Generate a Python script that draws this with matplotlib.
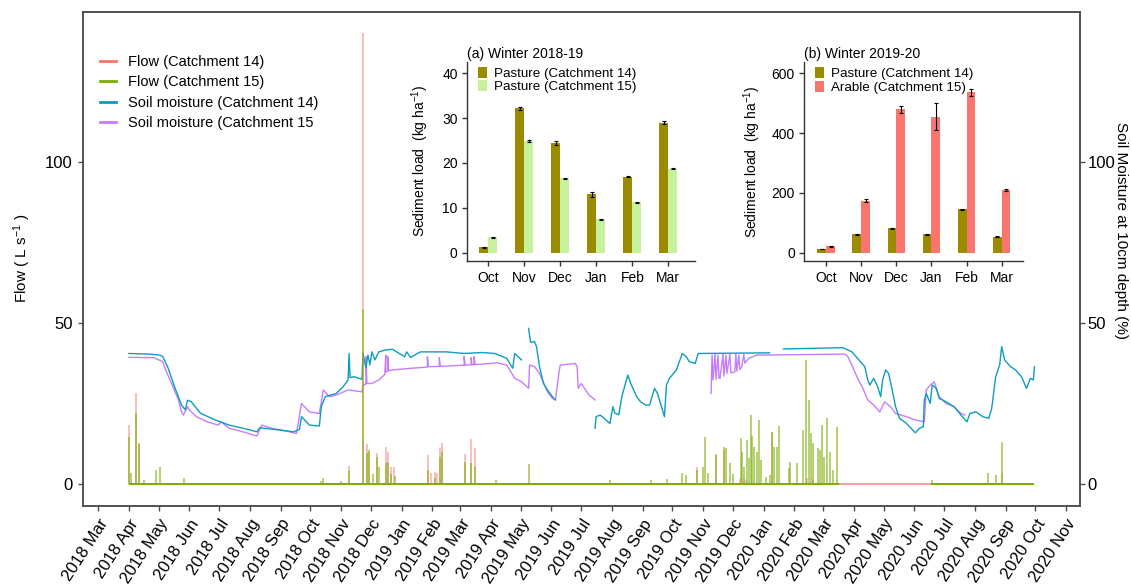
import matplotlib
matplotlib.use("Agg")
import matplotlib.pyplot as plt
import matplotlib.dates as mdates
from matplotlib.lines import Line2D
import numpy as np
import pandas as pd

plt.rcParams['font.family'] = ['Liberation Sans', 'DejaVu Sans']
plt.rcParams['mathtext.default'] = 'regular'

# ---------------- data ----------------
# Soil moisture at 10 cm depth (%), None marks logger gaps
soil14 = [
    ("2018-04-01", 40.5), ("2018-04-22", 40.3), ("2018-05-02", 40.0), ("2018-05-05", 39.6),
    ("2018-05-10", 36.4), ("2018-05-17", 30.2), ("2018-05-24", 24.5), ("2018-05-28", 23.0),
    ("2018-05-30", 26.0), ("2018-06-03", 25.5), ("2018-06-12", 22.0), ("2018-06-26", 20.0),
    ("2018-07-11", 18.3), ("2018-07-25", 17.3), ("2018-08-01", 16.8), ("2018-08-08", 16.2),
    ("2018-08-11", 17.5), ("2018-08-15", 17.3), ("2018-08-30", 16.8), ("2018-09-14", 16.2),
    ("2018-09-20", 17.0), ("2018-09-22", 20.9), ("2018-09-30", 18.3), ("2018-10-10", 18.0),
    ("2018-10-12", 24.0), ("2018-10-16", 27.1), ("2018-10-27", 28.1), ("2018-11-03", 30.2),
    ("2018-11-08", 32.3), ("2018-11-09", 40.5), ("2018-11-10", 33.0), ("2018-11-14", 33.3),
    ("2018-11-22", 32.5), ("2018-11-23", 40.5), ("2018-11-26", 36.0), ("2018-11-28", 40.0),
    ("2018-11-30", 37.0), ("2018-12-02", 41.0), ("2018-12-05", 38.5), ("2018-12-09", 41.0),
    ("2018-12-16", 41.6), ("2018-12-23", 41.8), ("2018-12-28", 40.8), ("2019-01-04", 39.5),
    ("2019-01-06", 41.0), ("2019-01-10", 39.3), ("2019-01-20", 41.0), ("2019-02-15", 41.0),
    ("2019-03-05", 40.5), ("2019-03-23", 40.8), ("2019-04-05", 40.5), ("2019-04-17", 39.0),
    ("2019-04-23", 35.9), ("2019-04-25", 40.5), ("2019-05-02", 38.5), ("2019-05-04", None),
    ("2019-05-09", 48.3), ("2019-05-11", 44.0), ("2019-05-15", 44.2), ("2019-05-17", 42.6),
    ("2019-05-20", 36.4), ("2019-05-24", 31.2), ("2019-05-28", 29.2), ("2019-06-02", 27.1),
    ("2019-06-05", 26.1), ("2019-06-07", None),
    ("2019-07-15", 17.3), ("2019-07-16", 20.9), ("2019-07-20", 21.4), ("2019-07-24", 20.5),
    ("2019-07-28", 19.3), ("2019-07-30", 18.8), ("2019-08-02", 24.0), ("2019-08-04", 22.0),
    ("2019-08-08", 21.5), ("2019-08-11", 27.1), ("2019-08-17", 33.8), ("2019-08-20", 31.2),
    ("2019-08-26", 27.1), ("2019-08-30", 25.5), ("2019-09-04", 24.5), ("2019-09-08", 24.5),
    ("2019-09-13", 29.7), ("2019-09-16", 28.1), ("2019-09-23", 20.9), ("2019-09-25", 30.7),
    ("2019-09-28", 32.8), ("2019-10-05", 35.4), ("2019-10-11", 40.5), ("2019-10-15", 39.5),
    ("2019-10-18", 38.0), ("2019-10-24", 37.4), ("2019-10-27", 40.5), ("2020-01-07", 40.7),
    ("2020-01-08", None),
    ("2020-01-21", 41.9), ("2020-03-21", 42.3), ("2020-03-30", 41.0), ("2020-04-06", 38.5),
    ("2020-04-12", 36.4), ("2020-04-15", 32.3), ("2020-04-17", 30.7), ("2020-04-21", 32.8),
    ("2020-04-25", 30.2), ("2020-04-28", 27.1), ("2020-04-30", 32.3), ("2020-05-03", 35.4),
    ("2020-05-06", 34.3), ("2020-05-09", 30.2), ("2020-05-13", 24.0), ("2020-05-17", 20.4),
    ("2020-05-24", 18.8), ("2020-06-02", 15.9), ("2020-06-06", 17.3), ("2020-06-10", 17.8),
    ("2020-06-11", 26.1), ("2020-06-13", 28.1), ("2020-06-17", 25.0), ("2020-06-19", 30.7),
    ("2020-06-23", 29.7), ("2020-06-26", 26.6), ("2020-07-03", 25.5), ("2020-07-11", 24.0),
    ("2020-07-18", 21.4), ("2020-07-24", 19.3), ("2020-07-27", 21.9), ("2020-08-02", 22.4),
    ("2020-08-09", 20.9), ("2020-08-15", 20.4), ("2020-08-18", 23.5), ("2020-08-22", 33.3),
    ("2020-08-26", 36.9), ("2020-08-28", 42.6), ("2020-08-31", 38.5), ("2020-09-06", 36.4),
    ("2020-09-11", 35.4), ("2020-09-17", 33.3), ("2020-09-22", 29.7), ("2020-09-26", 32.8),
    ("2020-09-29", 32.3), ("2020-09-30", 36.4),
]

soil15 = [
    ("2018-04-01", 39.3), ("2018-04-26", 39.2), ("2018-05-05", 38.0), ("2018-05-08", 35.4),
    ("2018-05-14", 31.2), ("2018-05-21", 26.1), ("2018-05-24", 22.4), ("2018-05-26", 21.4),
    ("2018-05-30", 24.0), ("2018-06-01", 23.0), ("2018-06-08", 20.9), ("2018-06-19", 19.3),
    ("2018-06-30", 18.3), ("2018-07-03", 19.3), ("2018-07-11", 17.3), ("2018-07-25", 16.2),
    ("2018-08-08", 14.9), ("2018-08-13", 18.3), ("2018-08-23", 17.3), ("2018-09-06", 16.5),
    ("2018-09-17", 15.7), ("2018-09-22", 25.0), ("2018-09-30", 22.4), ("2018-10-10", 21.9),
    ("2018-10-14", 29.2), ("2018-10-20", 27.1), ("2018-10-27", 27.6), ("2018-11-08", 29.2),
    ("2018-11-22", 28.6), ("2018-11-23", 30.7), ("2018-11-26", 31.0), ("2018-11-26", 39.5),
    ("2018-11-27", 31.2), ("2018-12-02", 31.2), ("2018-12-09", 32.3), ("2018-12-15", 34.0),
    ("2018-12-16", 40.0), ("2018-12-16", 34.8), ("2018-12-18", 35.0), ("2018-12-18", 39.5),
    ("2018-12-19", 35.2), ("2018-12-23", 35.4), ("2019-01-10", 35.9), ("2019-01-27", 36.3),
    ("2019-01-27", 39.5), ("2019-01-28", 36.4), ("2019-02-08", 36.5), ("2019-02-08", 39.2),
    ("2019-02-09", 36.5), ("2019-02-15", 36.6), ("2019-03-05", 36.9), ("2019-03-05", 39.6),
    ("2019-03-06", 36.9), ("2019-03-12", 37.0), ("2019-03-12", 39.2), ("2019-03-13", 37.0),
    ("2019-03-15", 37.0), ("2019-03-15", 39.5), ("2019-03-16", 37.1), ("2019-03-23", 37.2),
    ("2019-04-07", 37.6), ("2019-04-17", 36.9), ("2019-04-25", 32.8), ("2019-05-02", 31.7),
    ("2019-05-09", 29.7), ("2019-05-10", 36.9), ("2019-05-15", 36.4), ("2019-05-20", 34.3),
    ("2019-05-28", 28.6), ("2019-06-02", 26.6), ("2019-06-05", 26.1), ("2019-06-09", 35.4),
    ("2019-06-10", 36.9), ("2019-06-25", 37.4), ("2019-06-27", 36.4), ("2019-06-28", 29.7),
    ("2019-07-01", 31.2), ("2019-07-09", 27.6), ("2019-07-15", 26.1), ("2019-07-17", None),
    ("2019-11-09", 28.1), ("2019-11-10", 40.0), ("2019-11-11", 32.3), ("2019-11-13", 40.3),
    ("2019-11-14", 32.5), ("2019-11-16", 40.0), ("2019-11-17", 32.8), ("2019-11-18", 32.8),
    ("2019-11-21", 40.3), ("2019-11-22", 33.5), ("2019-11-24", 40.0), ("2019-11-25", 34.3),
    ("2019-11-28", 40.2), ("2019-11-29", 34.5), ("2019-12-03", 34.8), ("2019-12-04", 40.3),
    ("2019-12-05", 35.0), ("2019-12-07", 40.0), ("2019-12-08", 35.5), ("2019-12-10", 36.4),
    ("2019-12-12", 40.3), ("2019-12-13", 37.5), ("2019-12-17", 39.0), ("2019-12-25", 40.0),
    ("2020-03-23", 40.3), ("2020-03-26", 39.5), ("2020-03-30", 36.9), ("2020-04-04", 33.3),
    ("2020-04-10", 29.7), ("2020-04-15", 26.1), ("2020-04-21", 24.5), ("2020-04-27", 22.4),
    ("2020-05-02", 25.5), ("2020-05-08", 24.0), ("2020-05-13", 21.9), ("2020-05-24", 20.9),
    ("2020-06-02", 19.9), ("2020-06-11", 19.3), ("2020-06-13", 29.2), ("2020-06-17", 30.7),
    ("2020-06-21", 31.7), ("2020-06-26", 27.1), ("2020-07-03", 25.0), ("2020-07-11", 24.0),
    ("2020-07-18", 21.9), ("2020-07-22", 21.4),
]

# Flow peaks (L/s) above the zero baseline
flow14_peaks = [
    ("2018-04-01", 18.3), ("2018-04-08", 28.3), ("2018-04-11", 12.6), ("2018-11-09", 5.7),
    ("2018-11-23", 140.0), ("2018-11-27", 12.4), ("2018-11-29", 10.0), ("2018-12-07", 9.5),
    ("2018-12-16", 11.4), ("2018-12-18", 10.0), ("2018-12-21", 5.4), ("2018-12-24", 5.4),
    ("2019-01-28", 9.0), ("2019-01-31", 3.3), ("2019-02-04", 3.8), ("2019-02-06", 3.5),
    ("2019-02-09", 11.1), ("2019-02-11", 12.6), ("2019-03-06", 9.2), ("2019-03-12", 13.9),
    ("2019-03-16", 11.1), ("2019-10-26", 5.4), ("2019-11-14", 9.2), ("2019-11-22", 10.5),
    ("2019-12-08", 1.5), ("2019-12-12", 1.8), ("2019-12-14", 1.3), ("2020-01-09", 16.0),
    ("2020-02-14", 2.0), ("2020-02-20", 1.5), ("2020-08-28", 3.3),
]
flow15_peaks = [
    ("2018-04-01", 14.7), ("2018-04-03", 3.3), ("2018-04-08", 21.9), ("2018-04-11", 12.4),
    ("2018-04-16", 1.4), ("2018-04-28", 4.5), ("2018-05-02", 5.2), ("2018-05-27", 2.0),
    ("2018-10-12", 0.8), ("2018-10-14", 1.8), ("2018-11-01", 0.8), ("2018-11-09", 4.1),
    ("2018-11-23", 54.2), ("2018-11-27", 9.5), ("2018-11-29", 10.5), ("2018-12-03", 3.0),
    ("2018-12-07", 8.5), ("2018-12-09", 5.4), ("2018-12-16", 6.4), ("2018-12-18", 7.0),
    ("2018-12-21", 3.0), ("2018-12-25", 2.5), ("2019-01-28", 4.3), ("2019-02-04", 2.0),
    ("2019-02-09", 8.3), ("2019-02-11", 10.0), ("2019-03-06", 6.9), ("2019-03-12", 6.4),
    ("2019-03-16", 5.4), ("2019-04-06", 1.2), ("2019-05-09", 6.2), ("2019-07-30", 1.2),
    ("2019-09-09", 1.2), ("2019-09-26", 1.5), ("2019-10-11", 3.3), ("2019-10-15", 2.8),
    ("2019-10-26", 4.3), ("2019-11-01", 5.4), ("2019-11-03", 14.7), ("2019-11-06", 3.3),
    ("2019-11-14", 9.0), ("2019-11-22", 11.6), ("2019-11-24", 11.1), ("2019-11-28", 6.4),
    ("2019-12-01", 3.0), ("2019-12-09", 14.2), ("2019-12-10", 10.0), ("2019-12-12", 5.4),
    ("2019-12-15", 13.7), ("2019-12-17", 8.0), ("2019-12-19", 21.4), ("2019-12-20", 14.9),
    ("2019-12-22", 11.6), ("2019-12-25", 10.0), ("2019-12-27", 19.9), ("2019-12-29", 7.5),
    ("2020-01-03", 2.3), ("2020-01-07", 2.8), ("2020-01-09", 16.2), ("2020-01-11", 11.6),
    ("2020-01-14", 11.6), ("2020-01-16", 18.0), ("2020-01-27", 4.9), ("2020-01-28", 6.9),
    ("2020-02-04", 6.6), ("2020-02-10", 16.8), ("2020-02-13", 38.5), ("2020-02-16", 26.1),
    ("2020-02-18", 15.7), ("2020-02-20", 12.6), ("2020-02-25", 11.1), ("2020-02-27", 10.5),
    ("2020-02-29", 18.3), ("2020-03-02", 8.5), ("2020-03-05", 20.4), ("2020-03-08", 10.0),
    ("2020-03-11", 4.3), ("2020-03-15", 17.8), ("2020-06-19", 1.2), ("2020-08-14", 3.3),
    ("2020-08-22", 2.8), ("2020-08-28", 13.1),
]
# periods with a flow record (baseline drawn at zero)
flow14_record = [("2018-04-01", "2020-09-30")]
flow15_record = [("2018-04-01", "2020-03-17"), ("2020-06-18", "2020-09-30")]

# Monthly sediment loads (kg/ha) with standard errors
months = ["Oct", "Nov", "Dec", "Jan", "Feb", "Mar"]
w1819_c14 = [1.2, 32.2, 24.5, 13.0, 16.9, 29.0]
w1819_c14_se = [0.1, 0.4, 0.4, 0.5, 0.1, 0.3]
w1819_c15 = [3.4, 24.9, 16.6, 7.4, 11.2, 18.7]
w1819_c15_se = [0.1, 0.15, 0.1, 0.1, 0.1, 0.1]
w1920_c14 = [12, 62, 81, 61, 145, 53]
w1920_c14_se = [1, 2, 1.5, 2, 2, 2]
w1920_c15 = [21, 174, 480, 455, 537, 210]
w1920_c15_se = [2, 5, 12, 45, 12, 4]

# ---------------- colours ----------------
C_FLOW14 = "#F8766D"
C_FLOW15 = "#7CAE00"
C_SOIL14 = "#0E9CC0"
C_SOIL15 = "#C77CFF"
C_PAST = "#9B8B00"
C_PAST15 = "#C6F29E"
C_ARAB = "#F8766D"
SPINE = "#4d4d4d"


def to_series(pairs):
    d = pd.to_datetime([p[0] for p in pairs])
    v = np.array([np.nan if p[1] is None else p[1] for p in pairs], dtype=float)
    return d, v


W, H = 1131, 585
fig = plt.figure(figsize=(W / 100, H / 100), dpi=100)
ax = fig.add_axes([83.3 / W, 79 / H, 996.7 / W, 494.3 / H])

# soil moisture
for pairs, col in ((soil15, C_SOIL15), (soil14, C_SOIL14)):
    d, v = to_series(pairs)
    ax.plot(d, v, color=col, lw=1.0, zorder=2)

# flow: baselines and peaks
for peaks, record, col, a, ba in ((flow14_peaks, flow14_record, C_FLOW14, 0.5, 0.7),
                                  (flow15_peaks, flow15_record, C_FLOW15, 0.6, 1.0)):
    for s, e in record:
        ax.hlines(0, pd.Timestamp(s), pd.Timestamp(e), color=col, lw=1.4, alpha=ba, zorder=3)
    d, v = to_series(peaks)
    ax.vlines(d, 0, v, color=col, lw=1.3, alpha=a, zorder=3)

ax.set_xlim(pd.Timestamp("2018-02-14"), pd.Timestamp("2020-11-15"))
ax.set_ylim(-6.8, 146.5)
ax.set_yticks([0, 50, 100])
ax.xaxis.set_major_locator(mdates.MonthLocator())
ax.xaxis.set_major_formatter(mdates.DateFormatter("%Y %b"))
ax.tick_params(axis="both", labelsize=12, length=3.6, width=1, color=SPINE, pad=4)
for lbl in ax.get_xticklabels():
    lbl.set_rotation(57)
    lbl.set_ha("right")
    lbl.set_va("top")
    lbl.set_rotation_mode("anchor")
for sp in ax.spines.values():
    sp.set_color(SPINE)
    sp.set_linewidth(1.1)

ax2 = ax.twinx()
ax2.set_ylim(ax.get_ylim())
ax2.set_yticks([0, 50, 100])
ax2.tick_params(axis="y", labelsize=12, length=3.6, width=1, color=SPINE, pad=2)
for sp in ax2.spines.values():
    sp.set_color(SPINE)
    sp.set_linewidth(1.1)

fig.text(22 / W, 1 - 258 / H, "Flow ( L s$^{-1}$ )", rotation=90, ha="center", va="center", fontsize=11)
fig.text(1121 / W, 1 - 231 / H, "Soil Moisture at 10cm depth (%)", rotation=270,
         ha="center", va="center", fontsize=11)

handles = [Line2D([], [], color=C_FLOW14, lw=2),
           Line2D([], [], color=C_FLOW15, lw=2),
           Line2D([], [], color=C_SOIL14, lw=2),
           Line2D([], [], color=C_SOIL15, lw=2)]
labels = ["Flow (Catchment 14)", "Flow (Catchment 15)",
          "Soil moisture (Catchment 14)", "Soil moisture (Catchment 15"]
ax.legend(handles, labels, loc="upper left", bbox_to_anchor=(0.0168, 0.913), frameon=False,
          fontsize=10.5, handlelength=1.1, handletextpad=0.8, labelspacing=0.45,
          borderpad=0, borderaxespad=0)


def inset(rect, c14, c14se, c15, c15se, col15, lab15, ylim, yticks, xlim, title, lpad):
    a = fig.add_axes(rect, facecolor="none")
    x = np.arange(len(months))
    ek = dict(lw=0.8, capsize=1.5, capthick=0.8, ecolor="black")
    a.bar(x - 0.125, c14, 0.25, yerr=c14se, color=C_PAST, error_kw=ek, label="Pasture (Catchment 14)")
    a.bar(x + 0.125, c15, 0.25, yerr=c15se, color=col15, error_kw=ek, label=lab15)
    a.set_xticks(x)
    a.set_xticklabels(months)
    a.set_xlim(*xlim)
    a.set_ylim(*ylim)
    a.set_yticks(yticks)
    a.tick_params(labelsize=10, length=3.5, width=1, color="#333333", pad=3)
    a.tick_params(axis="x", pad=4)
    for s in ("top", "right"):
        a.spines[s].set_visible(False)
    for s in ("left", "bottom"):
        a.spines[s].set_color("#333333")
        a.spines[s].set_linewidth(1.0)
    a.set_ylabel("Sediment load  (kg ha$^{-1}$)", fontsize=10, labelpad=lpad)
    a.set_title(title, loc="left", fontsize=10, pad=3)
    a.legend(loc="upper left", bbox_to_anchor=(0.05, 0.975), frameon=False, fontsize=9.6,
             handlelength=0.68, handleheight=0.9, handletextpad=0.5, labelspacing=0.02,
             borderpad=0, borderaxespad=0)
    return a


inset([466.7 / W, 1 - 260.7 / H, 228.3 / W, 199 / H], w1819_c14, w1819_c14_se, w1819_c15, w1819_c15_se,
      C_PAST15, "Pasture (Catchment 15)", (-1.8, 42.6), [0, 10, 20, 30, 40], (-0.6, 5.74),
      "(a) Winter 2018-19", 8)
inset([804 / W, 1 - 260.7 / H, 218.7 / W, 198.4 / H], w1920_c14, w1920_c14_se, w1920_c15, w1920_c15_se,
      C_ARAB, "Arable (Catchment 15)", (-26.8, 636.8), [0, 200, 400, 600], (-0.63, 5.6),
      "(b) Winter 2019-20", 6)

fig.savefig("out.png", dpi=100)
